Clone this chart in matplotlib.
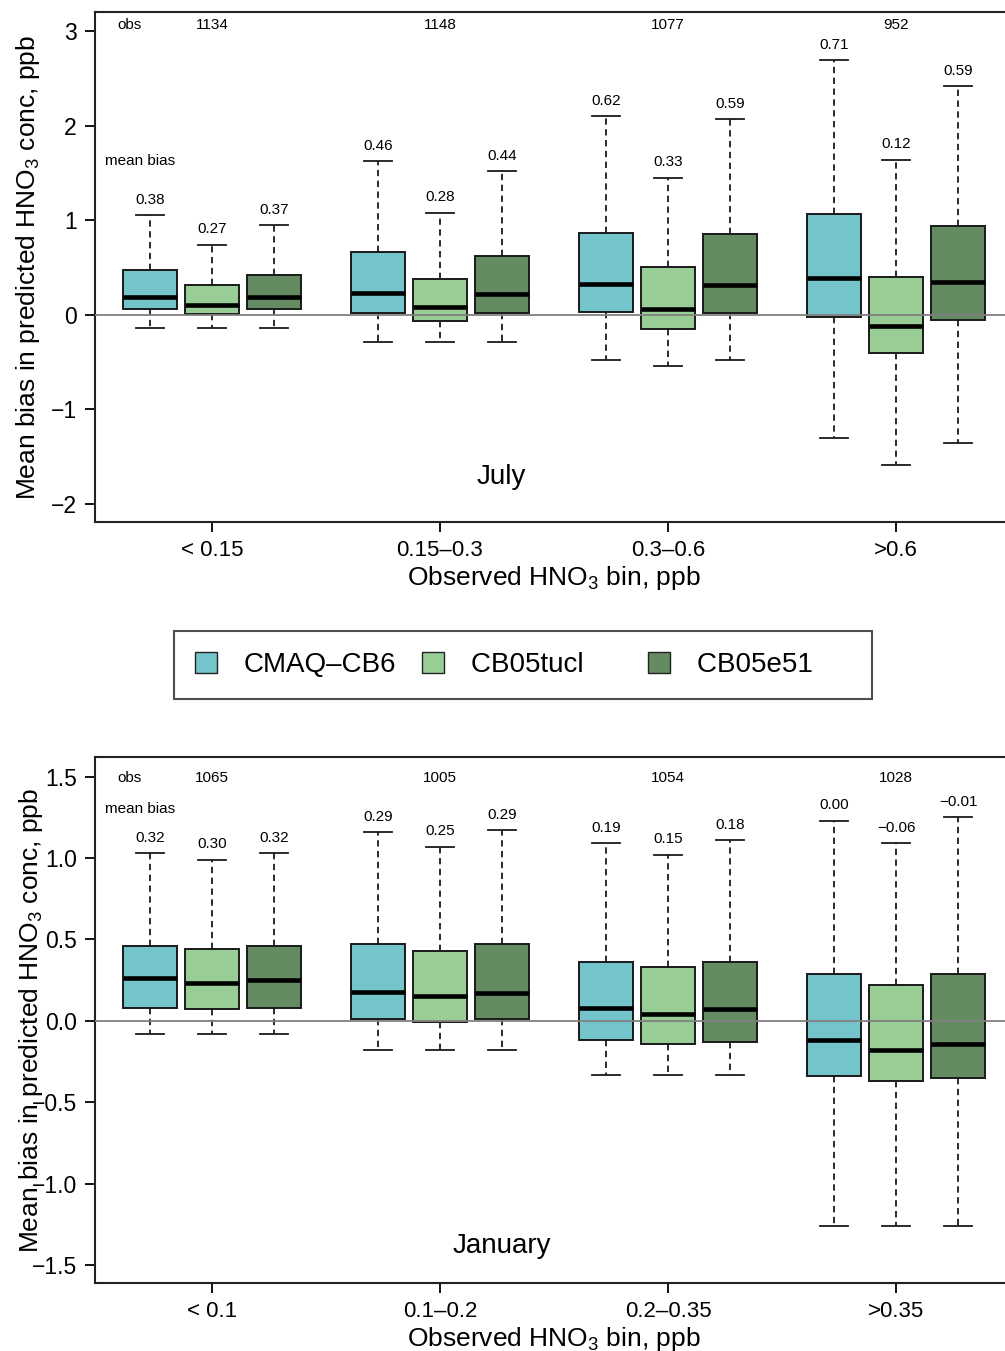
import matplotlib.pyplot as plt
from matplotlib.patches import Patch

plt.rcParams['font.family'] = ['Liberation Sans', 'DejaVu Sans']
plt.rcParams['mathtext.fontset'] = 'custom'
plt.rcParams['mathtext.rm'] = 'Liberation Sans'

# model names and colours
models = ["CMAQ\u2013CB6", "CB05tucl", "CB05e51"]
colors = ["#74C4CC", "#98CE96", "#658B62"]

# July: (whisker low, q1, median, q3, whisker high) per bin
july_bins = ["< 0.15", "0.15\u20130.3", "0.3\u20130.6", ">0.6"]
july_obs = [1134, 1148, 1077, 952]
july_cb6 = [(-0.14, 0.06, 0.19, 0.47, 1.05), (-0.29, 0.02, 0.23, 0.66, 1.62),
            (-0.48, 0.03, 0.33, 0.86, 2.10), (-1.30, -0.02, 0.39, 1.07, 2.69)]
july_tucl = [(-0.14, 0.01, 0.10, 0.31, 0.74), (-0.29, -0.07, 0.08, 0.38, 1.08),
             (-0.54, -0.15, 0.06, 0.50, 1.45), (-1.59, -0.40, -0.12, 0.40, 1.64)]
july_e51 = [(-0.14, 0.06, 0.19, 0.42, 0.95), (-0.29, 0.02, 0.22, 0.62, 1.52),
            (-0.48, 0.02, 0.31, 0.85, 2.07), (-1.35, -0.06, 0.35, 0.94, 2.42)]
july_mb_cb6 = [0.38, 0.46, 0.62, 0.71]
july_mb_tucl = [0.27, 0.28, 0.33, 0.12]
july_mb_e51 = [0.37, 0.44, 0.59, 0.59]

# January
jan_bins = ["< 0.1", "0.1\u20130.2", "0.2\u20130.35", ">0.35"]
jan_obs = [1065, 1005, 1054, 1028]
jan_cb6 = [(-0.08, 0.08, 0.26, 0.46, 1.03), (-0.18, 0.01, 0.18, 0.47, 1.16),
           (-0.33, -0.12, 0.08, 0.36, 1.09), (-1.26, -0.34, -0.12, 0.29, 1.23)]
jan_tucl = [(-0.08, 0.07, 0.23, 0.44, 0.99), (-0.18, -0.01, 0.15, 0.43, 1.07),
            (-0.33, -0.14, 0.04, 0.33, 1.02), (-1.26, -0.37, -0.18, 0.22, 1.09)]
jan_e51 = [(-0.08, 0.08, 0.25, 0.46, 1.03), (-0.18, 0.01, 0.17, 0.47, 1.17),
           (-0.33, -0.13, 0.07, 0.36, 1.11), (-1.26, -0.35, -0.14, 0.29, 1.25)]
jan_mb_cb6 = [0.32, 0.29, 0.19, 0.00]
jan_mb_tucl = [0.30, 0.25, 0.15, -0.06]
jan_mb_e51 = [0.32, 0.29, 0.18, -0.01]


def fmt(v):
    return f"{v:.2f}".replace("-", "\u2212")


def panel(ax, bins, obs, stats, biases, ylim, yticks, ytickfmt, month, month_y,
          obs_y, mb_y):
    offsets = [-0.272, 0.0, 0.272]
    for k, (st, mb) in enumerate(zip(stats, biases)):
        pos = [i + 1 + offsets[k] for i in range(len(bins))]
        bx = [dict(whislo=s[0], q1=s[1], med=s[2], q3=s[3], whishi=s[4], fliers=[])
              for s in st]
        ax.bxp(bx, positions=pos, widths=0.237, capwidths=0.125, patch_artist=True,
               showfliers=False,
               boxprops=dict(facecolor=colors[k], edgecolor='#1a1a1a', linewidth=1.4),
               medianprops=dict(color='black', linewidth=3.3, solid_capstyle='butt'),
               whiskerprops=dict(color='#1a1a1a', linewidth=1.3, linestyle=(0, (3.5, 2.5))),
               capprops=dict(color='#1a1a1a', linewidth=1.3))
        for p, s, v in zip(pos, st, mb):
            ax.annotate(fmt(v), (p, s[4]), xytext=(0, 11), textcoords='offset points',
                        ha='center', va='center', fontsize=11)
    ax.axhline(0, color='#808080', linewidth=1.3, zorder=5)
    for i, n in enumerate(obs):
        ax.text(i + 1, obs_y, str(n), ha='center', va='center', fontsize=11)
    ax.text(0.64, obs_y, "obs", ha='center', va='center', fontsize=11)
    ax.text(0.684, mb_y, "mean bias", ha='center', va='center', fontsize=11)
    ax.text(2.27, month_y, month, ha='center', va='center', fontsize=20)

    ax.set_xlim(0.487, 4.513)
    ax.set_ylim(*ylim)
    ax.set_xticks(range(1, len(bins) + 1))
    ax.set_xticklabels(bins, fontsize=16)
    ax.set_yticks(yticks)
    ax.set_yticklabels([ytickfmt(t).replace("-", "\u2212") for t in yticks], fontsize=16.5)
    ax.tick_params(direction='out', length=7, width=1.3, pad=6)
    for sp in ax.spines.values():
        sp.set_linewidth(1.5)
        sp.set_color('#222222')
    ax.set_xlabel("Observed HNO$_\\mathregular{3}$ bin, ppb", fontsize=19, labelpad=2)
    ax.set_ylabel("Mean bias in predicted HNO$_\\mathregular{3}$ conc, ppb", fontsize=19)


fig = plt.figure(figsize=(10.05, 13.51), dpi=100)
ax1 = fig.add_axes([95 / 1005, 1 - 522 / 1351, 918 / 1005, 510 / 1351])
ax2 = fig.add_axes([95 / 1005, 1 - 1283 / 1351, 918 / 1005, 526 / 1351])

panel(ax1, july_bins, july_obs, [july_cb6, july_tucl, july_e51],
      [july_mb_cb6, july_mb_tucl, july_mb_e51],
      (-2.19, 3.2), [-2, -1, 0, 1, 2, 3], lambda t: f"{t:d}", "July", -1.71, 3.06, 1.63)
ax1.yaxis.set_label_coords(-0.058, 0.5)

panel(ax2, jan_bins, jan_obs, [jan_cb6, jan_tucl, jan_e51],
      [jan_mb_cb6, jan_mb_tucl, jan_mb_e51],
      (-1.61, 1.62), [-1.5, -1.0, -0.5, 0.0, 0.5, 1.0, 1.5], lambda t: f"{t:.1f}",
      "January", -1.38, 1.49, 1.30)
ax2.yaxis.set_label_coords(-0.054, 0.5)

# pad the shorter labels so the three legend columns sit at equal steps
handles = [Patch(facecolor=c, edgecolor='#222222', linewidth=1.0) for c in colors]
labels = [models[0], models[1] + "     ", models[2] + "     "]
leg = fig.legend(handles, labels, loc='center', ncol=3, mode='expand',
                 bbox_to_anchor=(174 / 1005, 1 - 700 / 1351, 698 / 1005, 70 / 1351),
                 fontsize=20, frameon=True, fancybox=False, handlelength=0.8,
                 handleheight=0.8, handletextpad=0.95, borderpad=0.75,
                 borderaxespad=0)
leg.get_frame().set_edgecolor('#222222')
leg.get_frame().set_linewidth(1.5)

fig.savefig("out.png", dpi=100)
